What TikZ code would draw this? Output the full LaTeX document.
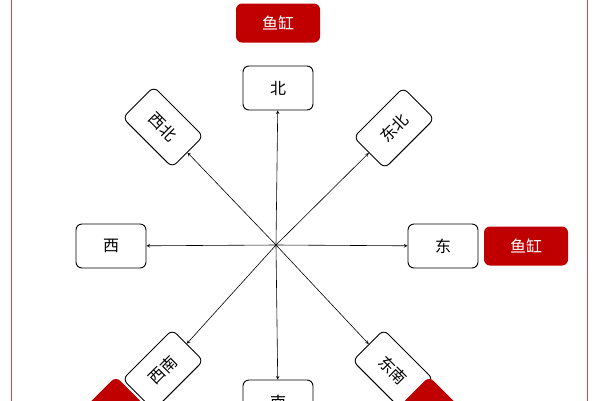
\documentclass[tikz,border=0pt]{standalone}
\usepackage{fontspec}
\newfontfamily\cjk{Noto Sans CJK SC}
\definecolor{fishred}{RGB}{192,0,0}
\tikzset{dirbox/.style={draw=black,line width=0.9pt,fill=white,rounded corners=6pt,minimum width=70pt,minimum height=44pt,font=\cjk\fontsize{16}{18}\selectfont}}
\tikzset{fishbox/.style={fill=fishred,text=white,rounded corners=6pt,minimum width=84pt,minimum height=39pt,font=\cjk\fontsize{16}{18}\selectfont}}
\tikzset{dirarrow/.style={draw=black,line width=0.6pt,-stealth}}
\begin{document}
\begin{tikzpicture}[x=1pt,y=-1pt]
  \useasboundingbox (0,0) rectangle (600,400);
  \clip (0,0) rectangle (600,400);
  \draw[fishred!70,line width=0.8pt] (11,-5) rectangle (587,405);
  \coordinate (c) at (276,245);
  \node[dirbox]            (n)  at (278,88)  {北};
  \node[dirbox]            (e)  at (443,246) {东};
  \node[dirbox]            (w)  at (111,246) {西};
  \node[dirbox]            (s)  at (278,402) {南};
  \node[dirbox,rotate=-45] (nw) at (163,127) {西北};
  \node[dirbox,rotate=45]  (ne) at (394,128) {东北};
  \node[dirbox,rotate=45]  (sw) at (163,370) {西南};
  \node[dirbox,rotate=-45] (se) at (393,370) {东南};
  % fish tanks
  \node[fishbox]            (f1) at (278,23)  {鱼缸};
  \node[fishbox]            (f2) at (526,246) {鱼缸};
  \node[fishbox,rotate=45]  (f3) at (100,420) {鱼缸};
  \node[fishbox,rotate=-45] (f4) at (445,420) {鱼缸};
  \foreach \d in {n,e,w,s,nw,ne,sw,se}
    \draw[dirarrow] (c) -- (\d);
\end{tikzpicture}
\end{document}
